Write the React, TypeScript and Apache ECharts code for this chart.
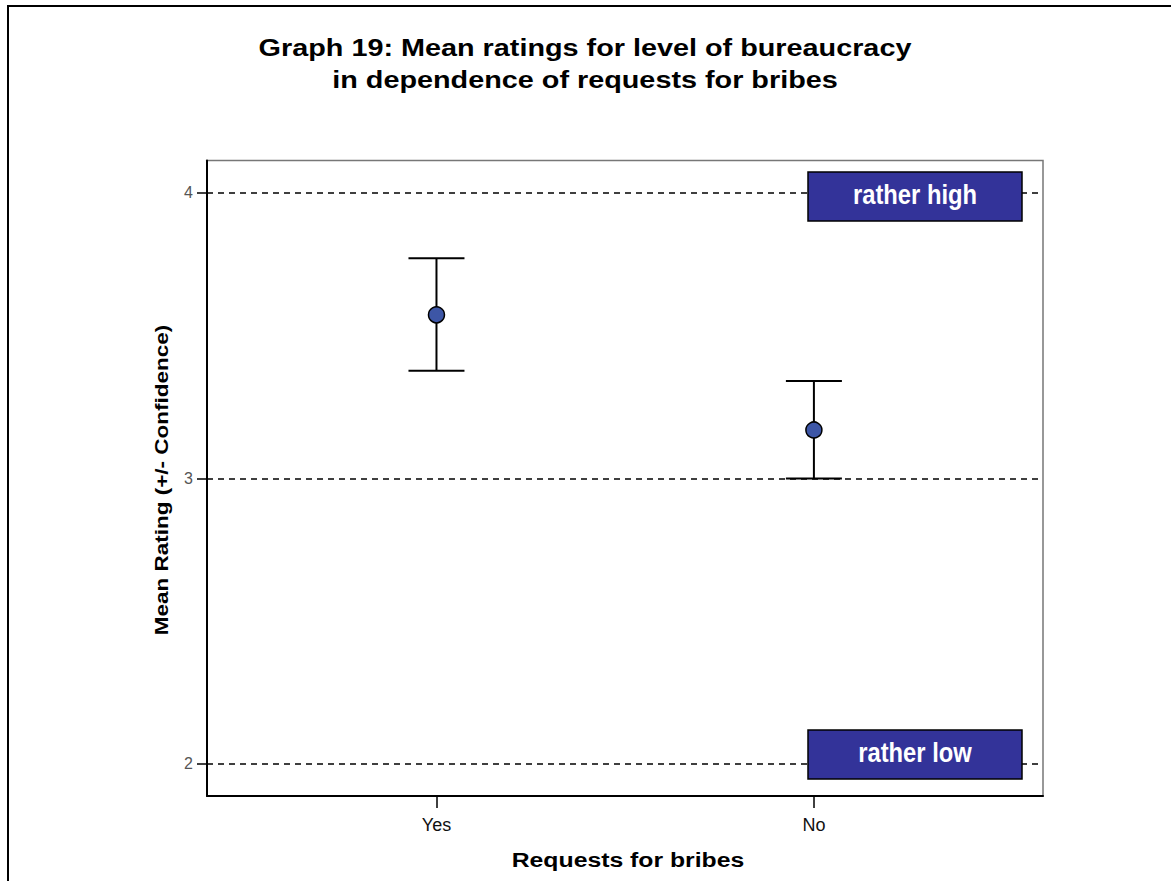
import React, { useEffect, useRef } from "react";
import * as echarts from "echarts";

const categories = ["Yes", "No"];
const means = [3.572, 3.169];
const lowerCI = [3.376, 2.999];
const upperCI = [3.77, 3.34];
const refLines = [2, 3, 4];
const yTicks = [2, 3, 4];
const bandLabels = ["rather high", "rather low"];

const titleLines = [
  "Graph 19: Mean ratings for level of bureaucracy",
  "in dependence of requests for bribes",
];
const xAxisTitle = "Requests for bribes";
const yAxisTitle = "Mean Rating (+/- Confidence)";

const FONT = '"Liberation Sans", Arial, Helvetica, sans-serif';

export default function App() {
  const ref = useRef<HTMLDivElement>(null);

  useEffect(() => {
    if (!ref.current) return;
    const chart = echarts.init(ref.current, null, { renderer: "svg" });

    const xPos = categories.map((_, i) => i + 1);
    const pointData = categories.map((_, i) => [xPos[i], means[i]]);
    const barData = categories.map((_, i) => [xPos[i], lowerCI[i], upperCI[i]]);

    const stretchedText = (
      text: string,
      x: number,
      y: number,
      size: number,
      sx: number,
      rotation = 0,
      fill = "#000"
    ) => ({
      type: "group",
      x,
      y,
      rotation,
      scaleX: sx,
      children: [
        {
          type: "text",
          x: 0,
          y: 0,
          z: 100,
          zlevel: 1,
          style: {
            text,
            font: `bold ${size}px ${FONT}`,
            fill,
            textAlign: "center",
            textVerticalAlign: "middle",
          },
        },
      ],
    });

    const box = (label: string, x: number, y: number) => ({
      type: "group",
      x,
      y,
      children: [
        {
          type: "rect",
          z: 100,
          zlevel: 1,
          shape: { x: 0, y: 0, width: 214, height: 49 },
          style: { fill: "#333399", stroke: "#000", lineWidth: 1.5 },
        },
        {
          type: "group",
          x: 107,
          y: 22,
          scaleX: 0.88,
          children: [
            {
              type: "text",
              z: 101,
              zlevel: 1,
              x: 0,
              y: 0,
              style: {
                text: label,
                font: `bold 27px ${FONT}`,
                fill: "#fff",
                textAlign: "center",
                textVerticalAlign: "middle",
              },
            },
          ],
        },
      ],
    });

    chart.setOption({
      animation: false,
      backgroundColor: "#fff",
      grid: {
        left: 207,
        right: 128,
        top: 160.5,
        bottom: 85,
        show: true,
        borderColor: "#777",
        borderWidth: 1.5,
        backgroundColor: "transparent",
      },
      xAxis: {
        type: "value",
        min: 0.392,
        max: 2.607,
        axisLine: { show: true, onZero: false, lineStyle: { color: "#000", width: 2 } },
        axisTick: {
          show: true,
          customValues: xPos,
          length: 12,
          lineStyle: { color: "#000", width: 1.5 },
        },
        axisLabel: {
          customValues: xPos,
          formatter: (v: number) => categories[Math.round(v) - 1] ?? "",
          fontFamily: FONT,
          fontSize: 18,
          color: "#111",
          margin: 20,
        },
        splitLine: { show: false },
      },
      yAxis: {
        type: "value",
        min: 1.888,
        max: 4.112,
        axisLine: { show: true, onZero: false, lineStyle: { color: "#000", width: 2 } },
        axisTick: {
          show: true,
          customValues: yTicks,
          length: 10,
          lineStyle: { color: "#000", width: 1.5 },
        },
        axisLabel: {
          customValues: yTicks,
          fontFamily: FONT,
          fontSize: 16,
          color: "#555",
          margin: 14,
        },
        splitLine: { show: false },
      },
      series: [
        {
          type: "custom",
          data: barData,
          encode: { x: 0, y: [1, 2] },
          z: 3,
          renderItem: (params: any, api: any) => {
            const x = api.value(0);
            const top = api.coord([x, api.value(2)]);
            const bot = api.coord([x, api.value(1)]);
            const hw = 28;
            const style = { stroke: "#000", lineWidth: 2, fill: "none" };
            return {
              type: "group",
              children: [
                { type: "line", shape: { x1: top[0], y1: top[1], x2: bot[0], y2: bot[1] }, style },
                { type: "line", shape: { x1: top[0] - hw, y1: top[1], x2: top[0] + hw, y2: top[1] }, style },
                { type: "line", shape: { x1: bot[0] - hw, y1: bot[1], x2: bot[0] + hw, y2: bot[1] }, style },
              ],
            };
          },
        },
        {
          type: "scatter",
          data: pointData,
          symbol: "circle",
          symbolSize: 16,
          z: 5,
          itemStyle: { color: "#3d56a6", borderColor: "#000", borderWidth: 1.5, opacity: 1 },
          markLine: {
            silent: true,
            symbol: "none",
            label: { show: false },
            lineStyle: { type: [6, 5], color: "#000", width: 1.6 },
            data: refLines.map((v) => ({ yAxis: v })),
          },
        },
      ],
      graphic: [
        {
          type: "rect",
          z: 100,
          zlevel: 1,
          shape: { x: 8, y: 6, width: 1400, height: 1200 },
          style: { fill: "none", stroke: "#000", lineWidth: 2 },
        },
        stretchedText(titleLines[0], 585, 47.7, 24, 1.2),
        stretchedText(titleLines[1], 585, 80, 24, 1.2),
        stretchedText(xAxisTitle, 628, 859.7, 21, 1.18),
        stretchedText(yAxisTitle, 162, 480, 18, 1.25, Math.PI / 2),
        box(bandLabels[0], 808, 172),
        box(bandLabels[1], 808, 730),
      ],
    });

    return () => chart.dispose();
  }, []);

  return (
    <div
      ref={ref}
      style={{ position: "absolute", left: 0, top: 0, width: 1171, height: 881 }}
    />
  );
}
